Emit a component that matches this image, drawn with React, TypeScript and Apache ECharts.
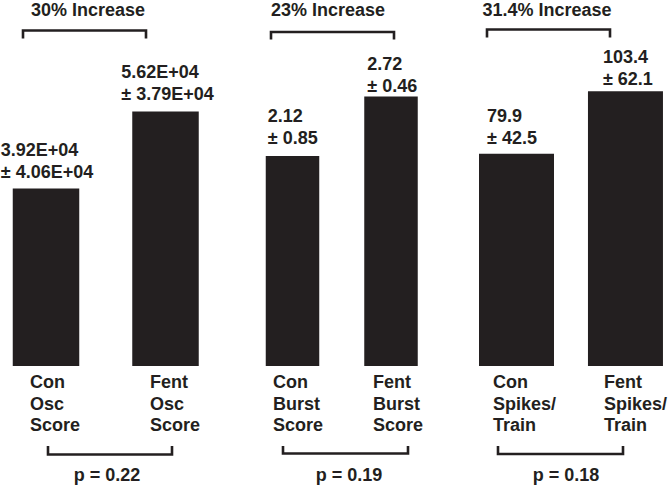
import React, { useEffect, useRef } from "react";
import * as echarts from "echarts";

// ---- data ----
const categories1 = ["Con\nOsc\nScore", "Fent\nOsc\nScore"];
const categories2 = ["Con\nBurst\nScore", "Fent\nBurst\nScore"];
const categories3 = ["Con\nSpikes/\nTrain", "Fent\nSpikes/\nTrain"];
const means1 = [39200, 56200];
const sds1 = [40600, 37900];
const means2 = [2.12, 2.72];
const sds2 = [0.85, 0.46];
const means3 = [79.9, 103.4];
const sds3 = [42.5, 62.1];
const increaseLabels = ["30% Increase", "23% Increase", "31.4% Increase"];
const pValueLabels = ["p = 0.22", "p = 0.19", "p = 0.18"];

const INK = "#231f20";
const FONT = '"Liberation Sans", Arial, Helvetica, sans-serif';

function fmtExp(v: number): string {
  const [m, e] = v.toExponential(2).split("e");
  const sign = e[0] === "-" ? "-" : "+";
  const digits = e.replace(/[+-]/, "").padStart(2, "0");
  return `${m}E${sign}${digits}`;
}

export default function App() {
  const ref = useRef<HTMLDivElement>(null);

  useEffect(() => {
    if (!ref.current) return;
    const chart = echarts.init(ref.current, null, { renderer: "svg" });

    const panels = [
      {
        cats: categories1, means: means1, sds: sds1, fmt: fmtExp,
        left: 46, width: 119.5, max: 72000, barWidth: 66.5,
        catPad: [-16, -15.5],
        labelPos: [[-12, -50], [-11, -51]],
      },
      {
        cats: categories2, means: means2, sds: sds2, fmt: (v: number) => v.toFixed(2),
        left: 292.5, width: 98.5, max: 3.29, barWidth: 53.5,
        catPad: [-19.5, -18],
        labelPos: [[2, -51], [3, -43]],
      },
      {
        cats: categories3, means: means3, sds: sds3, fmt: (v: number) => v.toFixed(1),
        left: 516.5, width: 112, max: 122.7, barWidth: 75,
        catPad: [-23.5, -21.5],
        labelPos: [[8, -49], [15, -45]],
      },
    ];

    const textBase = {
      fontFamily: FONT,
      fontSize: 18,
      fontWeight: "bold" as const,
      color: INK,
    };

    const grid = panels.map((p) => ({
      left: p.left,
      width: p.width,
      top: 40,
      height: 326,
      containLabel: false,
    }));

    const catLabelStyle = {
      ...textBase,
      align: "left",
      verticalAlign: "top",
      lineHeight: 21.7,
    };

    const xAxis = panels.map((p, i) => ({
      type: "category" as const,
      gridIndex: i,
      boundaryGap: false,
      data: p.cats.map((c, j) => ({
        value: c,
        textStyle: { ...catLabelStyle, padding: [0, 0, 0, p.catPad[j]] },
      })),
      axisLine: { show: false },
      axisTick: { show: false },
      splitLine: { show: false },
      axisLabel: {
        ...catLabelStyle,
        interval: 0,
        margin: 5,
      },
    }));

    const yAxis = panels.map((p, i) => ({
      type: "value" as const,
      gridIndex: i,
      min: 0,
      max: p.max,
      show: false,
    }));

    const series = panels.map((p, i) => ({
      type: "bar" as const,
      xAxisIndex: i,
      yAxisIndex: i,
      barWidth: p.barWidth,
      clip: false,
      itemStyle: { color: INK },
      data: p.means.map((v, j) => ({
        value: v,
        label: { position: p.labelPos[j] },
      })),
      label: {
        show: true,
        ...textBase,
        align: "left",
        verticalAlign: "top",
        lineHeight: 22,
        formatter: (params: any) =>
          `${p.fmt(params.value)}\n± ${p.fmt(p.sds[params.dataIndex])}`,
      },
    }));

    const topBrackets = [
      { x1: 23, x2: 146, y: 30.5, yEnd: 38.5, tx: 88, ty: 10 },
      { x1: 271, x2: 394, y: 32, yEnd: 39.5, tx: 328, ty: 10 },
      { x1: 487, x2: 610, y: 29.5, yEnd: 37.5, tx: 547, ty: 10 },
    ];
    const bottomBrackets = [
      { x1: 48, x2: 172, y: 454.5, yEnd: 446, tx: 107, ty: 475 },
      { x1: 283, x2: 408, y: 453.5, yEnd: 446, tx: 349, ty: 475 },
      { x1: 498, x2: 623, y: 454, yEnd: 446, tx: 566, ty: 475 },
    ];

    const graphic: any[] = [];
    const addBracket = (b: any, label: string) => {
      graphic.push({
        type: "polyline",
        shape: {
          points: [
            [b.x1, b.yEnd],
            [b.x1, b.y],
            [b.x2, b.y],
            [b.x2, b.yEnd],
          ],
        },
        style: { stroke: INK, lineWidth: 2.6, fill: null },
      });
      graphic.push({
        type: "text",
        x: b.tx,
        y: b.ty,
        style: {
          text: label,
          fontFamily: FONT,
          fontSize: 18,
          fontWeight: "bold",
          fill: INK,
          align: "center",
          verticalAlign: "middle",
        },
      });
    };
    topBrackets.forEach((b, i) => addBracket(b, increaseLabels[i]));
    bottomBrackets.forEach((b, i) => addBracket(b, pValueLabels[i]));

    chart.setOption({
      animation: false,
      backgroundColor: "#ffffff",
      grid,
      xAxis,
      yAxis,
      series,
      graphic,
    });

    return () => chart.dispose();
  }, []);

  return (
    <div
      ref={ref}
      style={{ position: "absolute", left: 0, top: 0, width: 670, height: 491 }}
    />
  );
}
